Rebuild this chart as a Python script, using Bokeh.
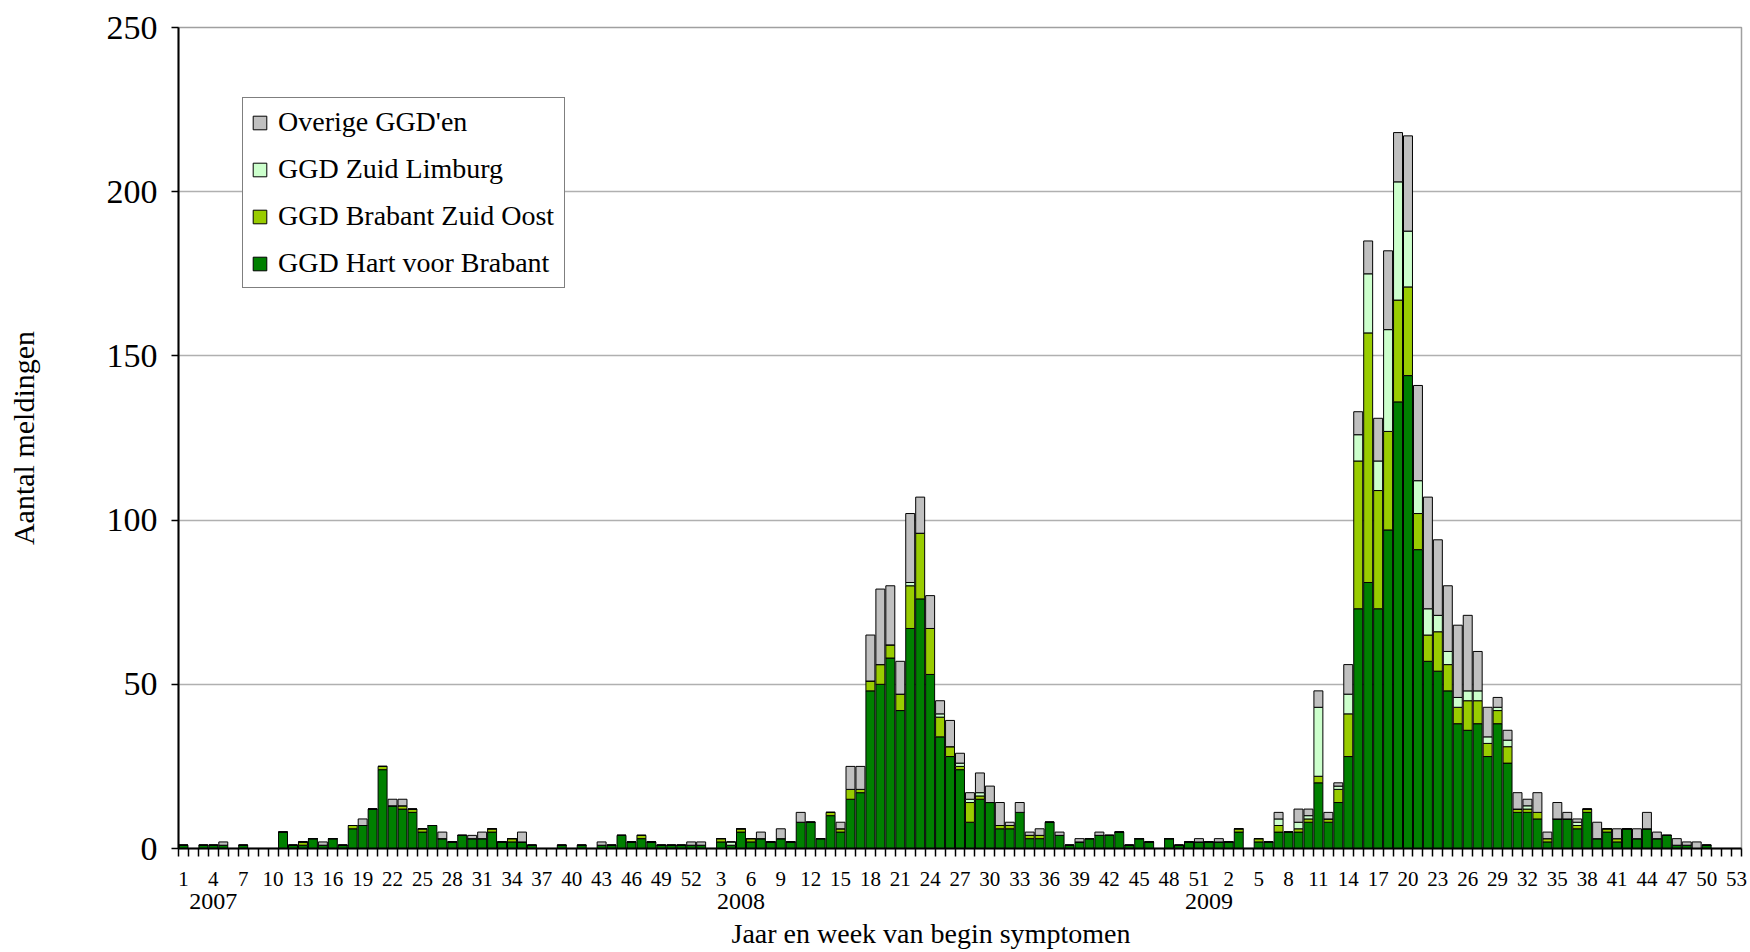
from bokeh.plotting import figure
from bokeh.models import (ColumnDataSource, FixedTicker, LinearAxis, Range1d,
                          Legend, LegendItem, SingleIntervalTicker, Title)
from bokeh.embed import file_html
from bokeh.resources import INLINE

# ---------------- data ----------------
years = ["2007", "2008", "2009"]
weeks_2007 = list(range(1, 53))
weeks_2008 = list(range(1, 53))
weeks_2009 = list(range(1, 54))

series_names = ["GGD Hart voor Brabant", "GGD Brabant Zuid Oost",
                "GGD Zuid Limburg", "Overige GGD'en"]

hart_2007 = [1, 0, 1, 1, 1, 0, 1, 0, 0, 0,
             5, 1, 1, 3, 1, 3, 1, 6, 7, 12,
             24, 13, 12, 11, 5, 7, 3, 2, 4, 3,
             3, 5, 2, 2, 2, 1, 0, 0, 1, 0,
             1, 0, 1, 1, 4, 2, 3, 2, 1, 1,
             1, 1]
bzo_2007 = [0, 0, 0, 0, 0, 0, 0, 0, 0, 0,
            0, 0, 1, 0, 0, 0, 0, 1, 0, 0,
            1, 0, 1, 1, 1, 0, 0, 0, 0, 0,
            0, 1, 0, 1, 0, 0, 0, 0, 0, 0,
            0, 0, 0, 0, 0, 0, 1, 0, 0, 0,
            0, 0]
zl_2007 = [0] * 52
ov_2007 = [0, 0, 0, 0, 1, 0, 0, 0, 0, 0,
           0, 0, 0, 0, 1, 0, 0, 0, 2, 0,
           0, 2, 2, 0, 0, 0, 2, 0, 0, 1,
           2, 0, 0, 0, 3, 0, 0, 0, 0, 0,
           0, 0, 1, 0, 0, 0, 0, 0, 0, 0,
           0, 1]

hart_2008 = [1, 0, 2, 1, 5, 2, 3, 2, 3, 2,
             8, 8, 3, 10, 5, 15, 17, 48, 50, 58,
             42, 67, 76, 53, 34, 28, 24, 8, 15, 14,
             6, 6, 11, 3, 3, 8, 4, 1, 2, 3,
             4, 4, 5, 1, 3, 2, 0, 3, 1, 2,
             2, 2]
bzo_2008 = [0, 0, 1, 0, 1, 1, 0, 0, 0, 0,
            0, 0, 0, 1, 1, 3, 1, 3, 6, 4,
            5, 13, 20, 14, 6, 3, 1, 6, 1, 0,
            1, 1, 0, 1, 1, 0, 0, 0, 0, 0,
            0, 0, 0, 0, 0, 0, 0, 0, 0, 0,
            0, 0]
zl_2008 = [0, 0, 0, 1, 0, 0, 0, 0, 0, 0,
           0, 0, 0, 0, 0, 0, 0, 0, 0, 0,
           0, 1, 0, 0, 1, 0, 1, 1, 1, 0,
           0, 0, 0, 0, 0, 0, 0, 0, 0, 0,
           0, 0, 0, 0, 0, 0, 0, 0, 0, 0,
           0, 0]
ov_2008 = [1, 0, 0, 0, 0, 0, 2, 0, 3, 0,
           3, 0, 0, 0, 2, 7, 7, 14, 23, 18,
           10, 21, 11, 10, 4, 8, 3, 2, 6, 5,
           7, 1, 3, 1, 2, 0, 1, 0, 1, 0,
           1, 0, 0, 0, 0, 0, 0, 0, 0, 0,
           1, 0]

hart_2009 = [2, 2, 5, 0, 2, 2, 5, 5, 5, 8,
             20, 8, 14, 28, 73, 81, 73, 97, 136, 144,
             91, 57, 54, 48, 38, 36, 38, 28, 38, 26,
             11, 11, 9, 2, 9, 9, 6, 11, 3, 5,
             2, 6, 3, 6, 3, 4, 1, 1, 0, 1,
             0, 0, 0]
bzo_2009 = [0, 0, 1, 0, 1, 0, 2, 0, 1, 1,
            2, 1, 4, 13, 45, 76, 36, 30, 31, 27,
            11, 8, 12, 8, 5, 9, 7, 4, 4, 5,
            1, 1, 2, 1, 0, 0, 1, 1, 0, 1,
            1, 0, 0, 0, 0, 0, 0, 0, 0, 0,
            0, 0, 0]
zl_2009 = [0, 0, 0, 0, 0, 0, 2, 0, 2, 1,
           21, 0, 1, 6, 8, 18, 9, 31, 36, 17,
           10, 8, 5, 4, 3, 3, 3, 2, 1, 2,
           0, 1, 0, 0, 0, 0, 1, 0, 0, 0,
           0, 0, 0, 0, 0, 0, 0, 0, 0, 0,
           0, 0, 0]
ov_2009 = [1, 0, 0, 0, 0, 0, 2, 0, 4, 2,
           5, 2, 1, 9, 7, 10, 13, 24, 15, 29,
           29, 34, 23, 20, 22, 23, 12, 9, 3, 3,
           5, 2, 6, 2, 5, 2, 1, 0, 5, 0,
           3, 0, 3, 5, 2, 0, 2, 1, 2, 0,
           0, 0, 0]

# ---------------- build ----------------
week_labels = weeks_2007 + weeks_2008 + weeks_2009
n = len(week_labels)
pos = list(range(1, n + 1))
src = ColumnDataSource(dict(
    pos=pos,
    hart=hart_2007 + hart_2008 + hart_2009,
    bzo=bzo_2007 + bzo_2008 + bzo_2009,
    zl=zl_2007 + zl_2008 + zl_2009,
    ov=ov_2007 + ov_2008 + ov_2009,
))

colors = ["#008000", "#99cc00", "#ccffcc", "#c0c0c0"]
FONT = "Liberation Serif"

p = figure(width=1748, height=952,
           x_range=Range1d(0.5, n + 0.5), y_range=Range1d(0, 250),
           output_backend="svg", toolbar_location=None,
           min_border_left=178, min_border_right=7,
           min_border_top=27, min_border_bottom=104,
           background_fill_color="white", border_fill_color="white")

rs = p.vbar_stack(["hart", "bzo", "zl", "ov"], x="pos", width=0.9,
                  fill_color=colors, line_color="black", line_width=1,
                  source=src)

# x axis (weeks)
label_pos = pos[::3]
p.xaxis.ticker = FixedTicker(ticks=label_pos,
                             minor_ticks=[k + 0.5 for k in range(n + 1)])
p.xaxis.major_label_overrides = {k: str(week_labels[k - 1]) for k in label_pos}
p.xaxis.major_tick_out = 0
p.xaxis.major_tick_in = 0
p.xaxis.major_tick_line_color = None
p.xaxis.minor_tick_out = 8
p.xaxis.minor_tick_in = 0
p.xaxis.minor_tick_line_color = "black"
p.xaxis.minor_tick_line_width = 1.5
p.xaxis.axis_line_color = "black"
p.xaxis.axis_line_width = 2
p.xaxis.major_label_standoff = 15
p.xaxis.major_label_text_font = FONT
p.xaxis.major_label_text_font_size = "21px"
p.xaxis.major_label_text_color = "black"

# year axis below
year_pos = [4, 57, 104]
year_axis = LinearAxis(
    ticker=FixedTicker(ticks=year_pos),
    major_label_overrides={k: y for k, y in zip(year_pos, years)},
    axis_line_color=None, major_tick_line_color=None, minor_tick_line_color=None,
    major_tick_out=0, major_tick_in=0, minor_tick_out=0, minor_tick_in=0,
    major_label_standoff=5,
    major_label_text_font=FONT, major_label_text_font_size="24px",
    major_label_text_color="black",
)
p.add_layout(year_axis, "below")

x_title = Title(text="Jaar en week van begin symptomen", align="left",
                offset=553, standoff=8, text_font=FONT, text_font_size="28px",
                text_font_style="normal", text_color="black")
p.add_layout(x_title, "below")

# y axis
p.yaxis.ticker = SingleIntervalTicker(interval=50)
p.yaxis.axis_label = "Aantal meldingen"
p.yaxis.axis_label_text_font = FONT
p.yaxis.axis_label_text_font_size = "30px"
p.yaxis.axis_label_text_font_style = "normal"
p.yaxis.axis_label_text_color = "black"
p.yaxis.axis_label_standoff = 64
p.yaxis.major_label_text_font = FONT
p.yaxis.major_label_text_font_size = "34px"
p.yaxis.major_label_text_color = "black"
p.yaxis.major_label_standoff = 14
p.yaxis.major_tick_out = 7
p.yaxis.major_tick_in = 0
p.yaxis.major_tick_line_color = "black"
p.yaxis.major_tick_line_width = 1.5
p.yaxis.minor_tick_line_color = None
p.yaxis.axis_line_color = "black"
p.yaxis.axis_line_width = 2

# grid / outline
p.xgrid.visible = False
p.ygrid.grid_line_color = "#b0b0b0"
p.ygrid.grid_line_width = 1.5
p.outline_line_color = "#a0a0a0"
p.outline_line_width = 1.5

# legend
order = [3, 2, 1, 0]
legend = Legend(
    items=[LegendItem(label=series_names[i], renderers=[rs[i]]) for i in order],
    location=(64, 560),
    label_text_font=FONT, label_text_font_size="28px", label_text_color="black",
    glyph_width=17, glyph_height=17, label_height=30, label_standoff=10,
    label_width=278, spacing=15, padding=8, margin=0,
    border_line_color="black", border_line_width=1.5,
    background_fill_color="white", background_fill_alpha=1.0,
)
p.add_layout(legend)

open("out.html", "w").write(file_html(p, INLINE))
